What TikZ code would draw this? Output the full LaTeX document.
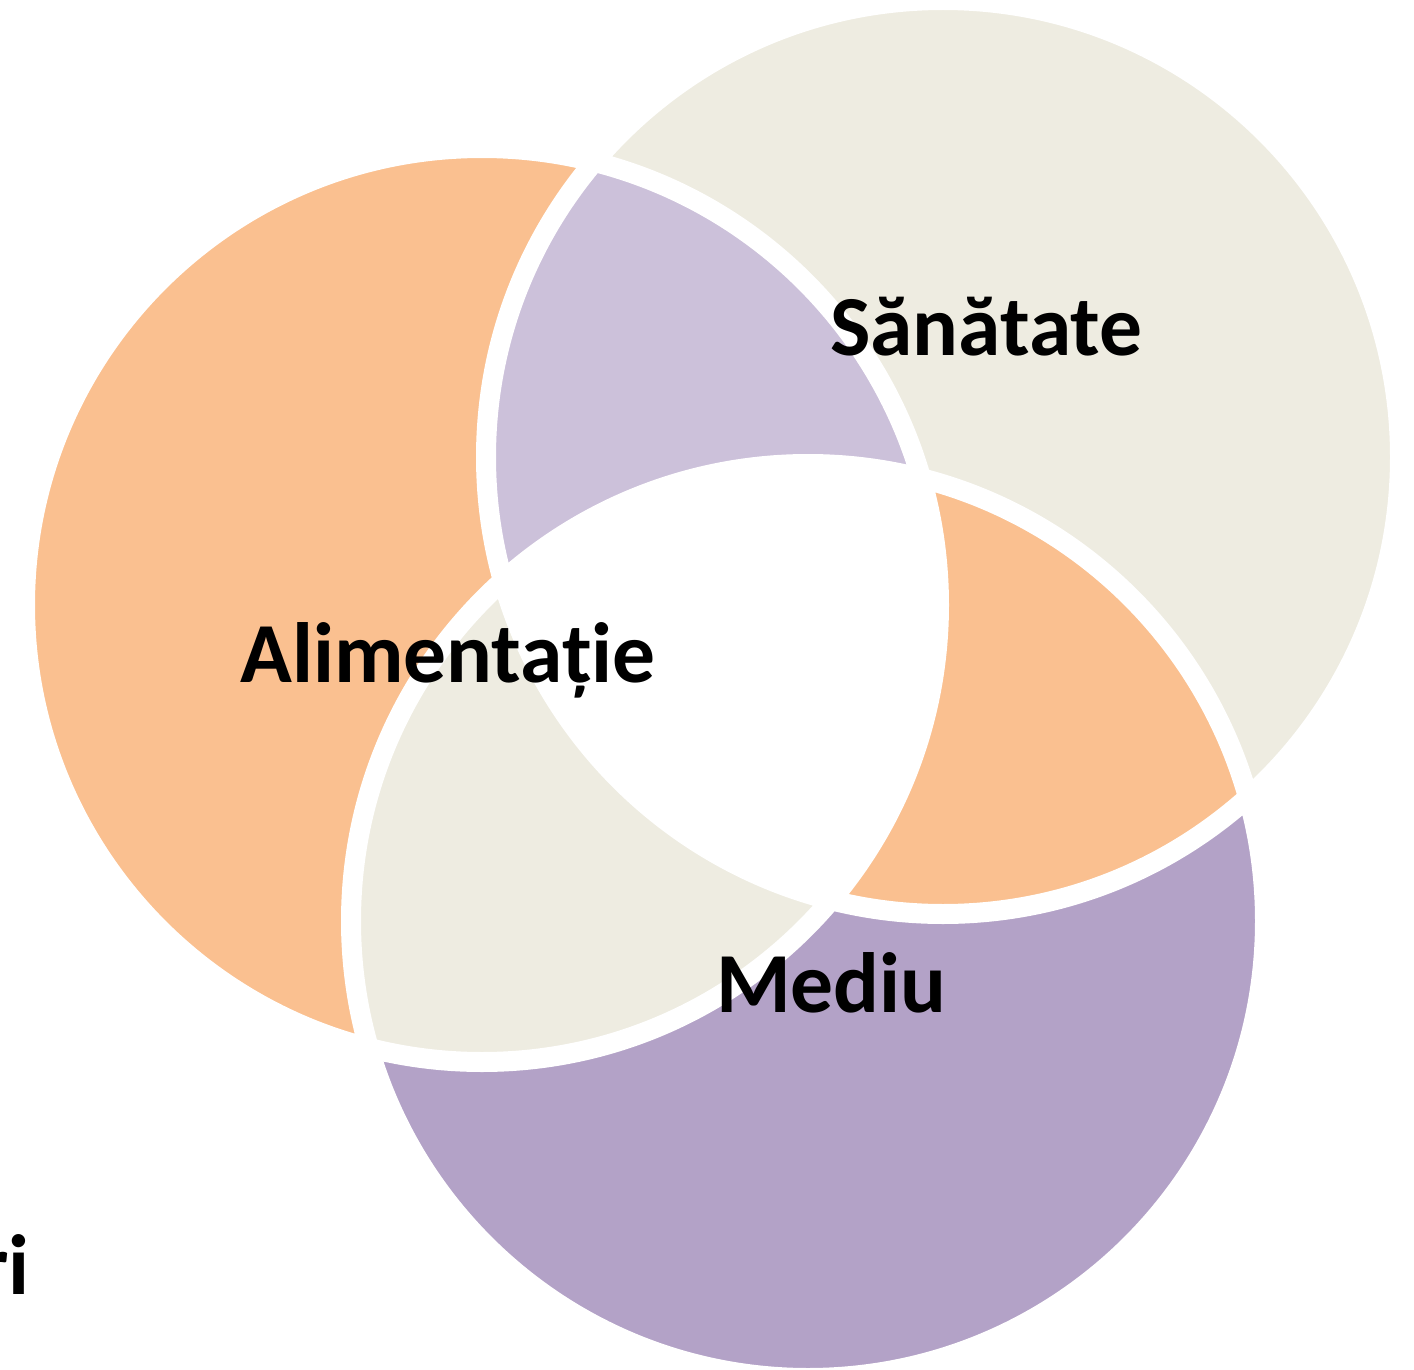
\documentclass[tikz,border=0pt]{standalone}
\usepackage{fontspec}
\setmainfont{Carlito}
\definecolor{orangeC}{HTML}{FAC090}
\definecolor{beigeC}{HTML}{EEECE1}
\definecolor{purpleC}{HTML}{B3A2C7}
\definecolor{lavC}{HTML}{CCC1DA}
\tikzset{lbl/.style={inner sep=0pt, anchor=base west, font=\fontsize{85.5}{90}\selectfont\bfseries, text=black}}
\begin{document}
\begin{tikzpicture}[x=1pt,y=-1pt]
\useasboundingbox (0,0) rectangle (1414,1370);
\coordinate (cO) at (482,605);
\coordinate (cB) at (943,457);
\coordinate (cP) at (808,921);
\def\R{457}
\fill[orangeC] (cO) circle[radius=\R];
\fill[beigeC] (cB) circle[radius=\R];
\fill[purpleC] (cP) circle[radius=\R];
\begin{scope}
  \clip (cO) circle[radius=\R];
  \fill[lavC] (cB) circle[radius=\R];
\end{scope}
\begin{scope}
  \clip (cB) circle[radius=\R];
  \fill[orangeC] (cP) circle[radius=\R];
\end{scope}
\begin{scope}
  \clip (cO) circle[radius=\R];
  \fill[beigeC] (cP) circle[radius=\R];
\end{scope}
\begin{scope}
  \clip (cO) circle[radius=\R];
  \clip (cB) circle[radius=\R];
  \fill[white] (cP) circle[radius=\R];
\end{scope}
\draw[white, line width=20] (cO) circle[radius=\R] (cB) circle[radius=\R] (cP) circle[radius=\R];
\node[lbl] (san) at (830,355) {Sănătate};
\node[lbl] (ali) at (240,682) {Alimentație};
\node[lbl] (med) at (716,1012) {Mediu};
\node[lbl, anchor=base east] (ri) at (30,1294) {ri};
\end{tikzpicture}
\end{document}
